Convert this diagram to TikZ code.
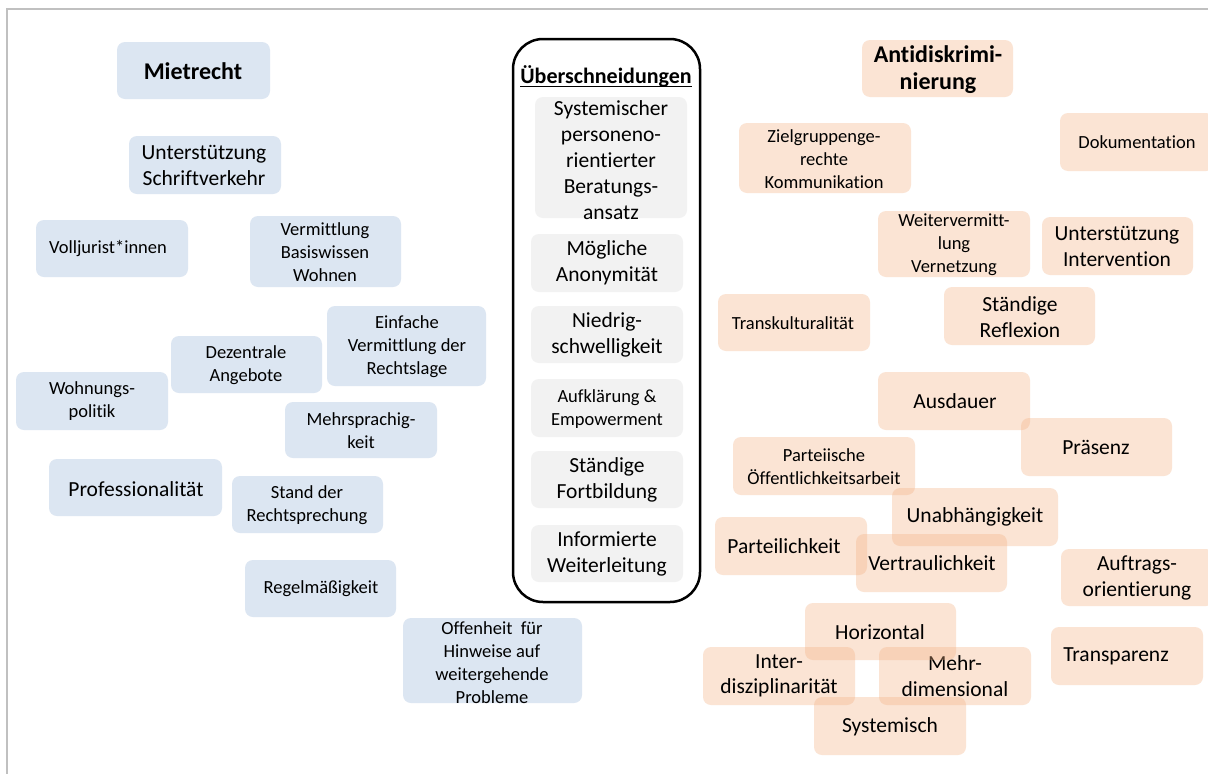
\documentclass[tikz,border=0pt]{standalone}
\usepackage{fontspec}
\setmainfont{Carlito}[Ligatures=CommonOff]

\definecolor{blueC}{HTML}{DCE6F2}
\definecolor{grayC}{HTML}{F2F2F2}
\definecolor{orangeC}{HTML}{F4B183}
\definecolor{frameC}{HTML}{C0C0C0}

% one rounded card: name, box style, x1, y1, x2, y2, text style, text centre, text
\newcommand\card[9]{%
  \node[#2, minimum width={(#5-#3)*1pt}, minimum height={(#6-#4)*1pt}] (#1) at ({(#3+#5)/2},{(#4+#6)/2}) {};
  \node[#7] (#1-t) at (#8) {#9};
}

\tikzset{
  cardbase/.style={rectangle, rounded corners=8pt, inner sep=0pt, outer sep=0pt, draw=none},
  bluebox/.style={cardbase, fill=blueC},
  graybox/.style={cardbase, fill=grayC},
  orbox/.style={cardbase, fill=orangeC, fill opacity=0.34},
  txt/.style={inner sep=0pt, outer sep=0pt, align=center, text=black},
  head/.style={txt, font=\bfseries\fontsize{24}{27}\selectfont},
  headc/.style={txt, font=\bfseries\fontsize{22}{26}\selectfont},
  big/.style={txt, font=\fontsize{21.5}{25.5}\selectfont},
  bigc/.style={txt, font=\fontsize{21.5}{26}\selectfont},
  small/.style={txt, font=\fontsize{18.5}{23}\selectfont},
  smallc/.style={txt, font=\fontsize{18.5}{23}\selectfont},
}

\begin{document}
\begin{tikzpicture}[x=1pt, y=-1pt]
\clip (0,0) rectangle (1208,774);
\fill[white] (0,0) rectangle (1208,774);

% page frame
\coordinate (fbl) at (7,774);
\coordinate (ftl) at (7,9);
\coordinate (ftr) at (1208,9);
\draw[frameC, line width=1.3pt] (fbl) -- (ftl) -- (ftr);

% --- Mietrecht ---
\card{miet}{bluebox}{117}{42}{270}{99}{head}{193,71}{Mietrecht}
\card{schrift}{bluebox}{129}{136}{281}{194}{big}{204,165.5}{Unterstützung\\Schriftverkehr}
\card{voll}{bluebox}{36}{220}{188}{277}{small}{108,249}{Volljurist*innen}
\card{basis}{bluebox}{250}{216}{401}{287}{small}{325,252}{Vermittlung\\Basiswissen\\Wohnen}
\card{lage}{bluebox}{327}{306}{486}{386}{small}{407,347}{Einfache\\Vermittlung der\\Rechtslage}
\card{dezent}{bluebox}{171}{336}{322}{393}{small}{246,365}{Dezentrale\\Angebote}
\card{wpol}{bluebox}{16}{372}{168}{430}{small}{92,401.5}{Wohnungs-\\politik}
\card{mehrspr}{bluebox}{285}{402}{437}{458}{small}{361,430.5}{Mehrsprachig-\\keit}
\card{prof}{bluebox}{49}{459}{222}{516}{big}{136,489}{Professionalität}
\card{stand}{bluebox}{232}{476}{383}{533}{small}{307,505.5}{Stand der\\Rechtsprechung}
\card{regel}{bluebox}{245}{560}{396}{617}{small}{321,589}{Regelmäßigkeit}
\card{offen}{bluebox}{403}{618}{582}{703}{small}{492,662.5}{Offenheit\ \ für\\Hinweise auf\\weitergehende\\Probleme}

% --- Überschneidungen ---
\node[draw=black, line width=2.5pt, rounded corners=30pt, minimum width=187pt, minimum height=563pt, inner sep=0pt] (ueber) at (606.5,320.5) {};
\node[headc] (ueber-t) at (606,76) {Überschneidungen};
\draw[line width=1.4pt] ([yshift=-3.5pt]ueber-t.base west) -- ([yshift=-3.5pt]ueber-t.base east);
\card{sys}{graybox}{535}{97}{687}{218}{bigc}{611,160}{Systemischer\\personeno-\\rientierter\\Beratungs-\\ansatz}
\card{anon}{graybox}{531}{234}{683}{292}{bigc}{607,263}{Mögliche\\Anonymität}
\card{nied}{graybox}{531}{306}{683}{363}{bigc}{607,335}{Niedrig-\\schwelligkeit}
\card{aufk}{graybox}{531}{379}{683}{437}{smallc}{607,409.5}{Aufklärung \&\\Empowerment}
\card{fort}{graybox}{531}{451}{683}{508}{bigc}{607,480}{Ständige\\Fortbildung}
\card{weit}{graybox}{531}{525}{683}{582}{bigc}{607,554}{Informierte\\Weiterleitung}

% --- Antidiskriminierung ---
\card{anti}{orbox}{862}{40}{1013}{97}{head}{938,69.5}{Antidiskrimi-\\nierung}
\card{ziel}{orbox}{739}{123}{911}{193}{small}{824,159.5}{Zielgruppenge-\\rechte\\Kommunikation}
\card{doku}{orbox}{1060}{113}{1214}{171}{small}{1137,142}{Dokumentation}
\card{wvm}{orbox}{878}{211}{1030}{277}{small}{954,245}{Weitervermitt-\\lung\\Vernetzung}
\card{interv}{orbox}{1042}{217}{1193}{275}{big}{1117,246.5}{Unterstützung\\Intervention}
\card{trans}{orbox}{718}{294}{870}{351}{small}{793,323}{Transkulturalität}
\card{refl}{orbox}{944}{287}{1095}{345}{big}{1020,317}{Ständige\\Reflexion}
\card{ausd}{orbox}{878}{372}{1030}{430}{big}{955,401}{Ausdauer}
\card{praes}{orbox}{1021}{418}{1172}{476}{big}{1096,447}{Präsenz}
\card{oeff}{orbox}{733}{437}{915}{495}{small}{824,466.5}{Parteiische\\Öffentlichkeitsarbeit}
\card{partei}{orbox}{715}{517}{867}{575}{big}{784,546}{Parteilichkeit}
\card{unab}{orbox}{892}{488}{1058}{546}{big}{975,517}{Unabhängigkeit}
\card{vertr}{orbox}{856}{534}{1007}{592}{big}{932,563}{Vertraulichkeit}
\card{auftr}{orbox}{1061}{549}{1214}{606}{big}{1137,578}{Auftrags-\\orientierung}
\card{transp}{orbox}{1051}{627}{1203}{685}{big}{1116,656}{Transparenz}
\card{inter}{orbox}{703}{647}{855}{705}{big}{779,676}{Inter-\\disziplinarität}
\card{mehrd}{orbox}{879}{647}{1031}{705}{big}{955,676}{Mehr-\\dimensional}
\card{horiz}{orbox}{805}{603}{956}{660}{big}{880,632}{Horizontal}
\card{syst}{orbox}{814}{697}{966}{755}{big}{890,727}{Systemisch}
\end{tikzpicture}
\end{document}
